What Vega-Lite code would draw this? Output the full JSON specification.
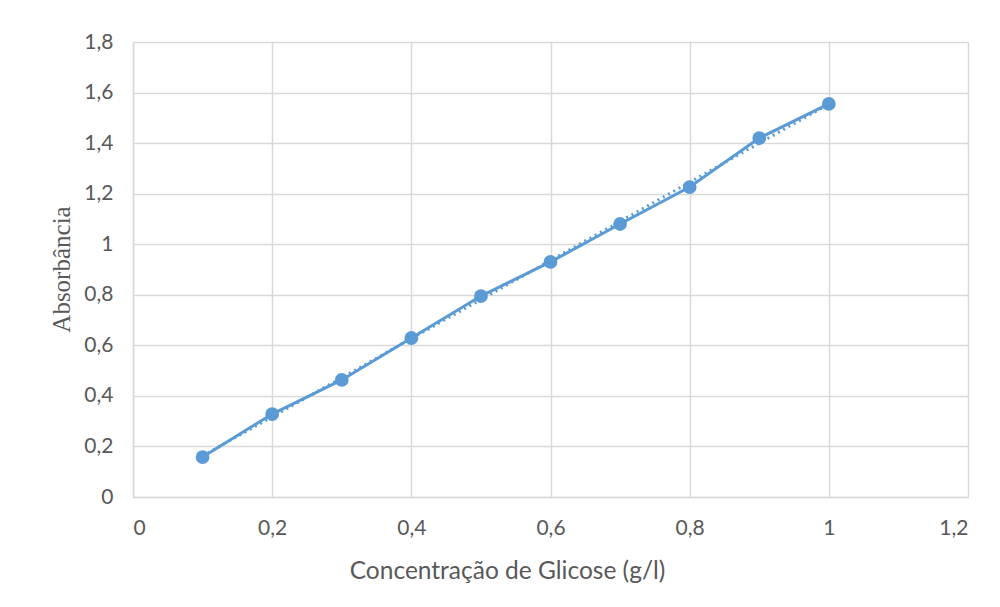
{
  "$schema": "https://vega.github.io/schema/vega-lite/v6.json",
  "autosize": {"type": "none"},
  "width": 835,
  "height": 455,
  "padding": {"left": 133, "top": 42, "right": 32, "bottom": 110},
  "background": "white",
  "config": {
    "view": {"stroke": null},
    "axis": {
      "labelFont": "Lato",
      "labelFontSize": 21,
      "labelColor": "#595959",
      "gridColor": "#d9d9d9",
      "gridWidth": 1.5,
      "domainColor": "#d9d9d9",
      "domainWidth": 1.5,
      "ticks": false
    }
  },
  "data": {
    "values": [
      {"c": 0.1, "a": 0.158},
      {"c": 0.2, "a": 0.328},
      {"c": 0.3, "a": 0.463},
      {"c": 0.4, "a": 0.629},
      {"c": 0.5, "a": 0.795},
      {"c": 0.6, "a": 0.930},
      {"c": 0.7, "a": 1.080},
      {"c": 0.8, "a": 1.226},
      {"c": 0.9, "a": 1.420},
      {"c": 1.0, "a": 1.555}
    ]
  },
  "layer": [
    {
      "transform": [{"regression": "a", "on": "c"}],
      "mark": {"type": "line", "color": "#5B9BD5", "strokeWidth": 3, "strokeDash": [2, 4]},
      "encoding": {
        "x": {"field": "c", "type": "quantitative"},
        "y": {"field": "a", "type": "quantitative"}
      }
    },
    {
      "mark": {"type": "line", "color": "#5B9BD5", "strokeWidth": 3, "point": {"filled": true, "size": 190, "color": "#5B9BD5", "opacity": 1}},
      "encoding": {
        "x": {
          "field": "c", "type": "quantitative",
          "scale": {"domain": [0, 1.2], "nice": false},
          "axis": {
            "values": [0, 0.2, 0.4, 0.6, 0.8, 1, 1.2],
            "format": "~g",
            "labelExpr": "replace(datum.label, '.', ',')",
            "labelPadding": 20,
            "title": "Concentração de Glicose (g/l)",
            "titleFont": "Lato",
            "titleFontSize": 24.5,
            "titleFontWeight": "normal",
            "titleColor": "#595959",
            "titleX": 374,
            "titleY": 62
          }
        },
        "y": {
          "field": "a", "type": "quantitative",
          "scale": {"domain": [0, 1.8], "nice": false},
          "axis": {
            "values": [0, 0.2, 0.4, 0.6, 0.8, 1, 1.2, 1.4, 1.6, 1.8],
            "format": "~g",
            "labelExpr": "replace(datum.label, '.', ',')",
            "labelPadding": 20,
            "title": "Absorbância",
            "titleFont": "Liberation Serif",
            "titleFontSize": 25,
            "titleFontWeight": "normal",
            "titleColor": "#595959",
            "titleX": -59,
            "titleY": 227
          }
        }
      }
    }
  ]
}
